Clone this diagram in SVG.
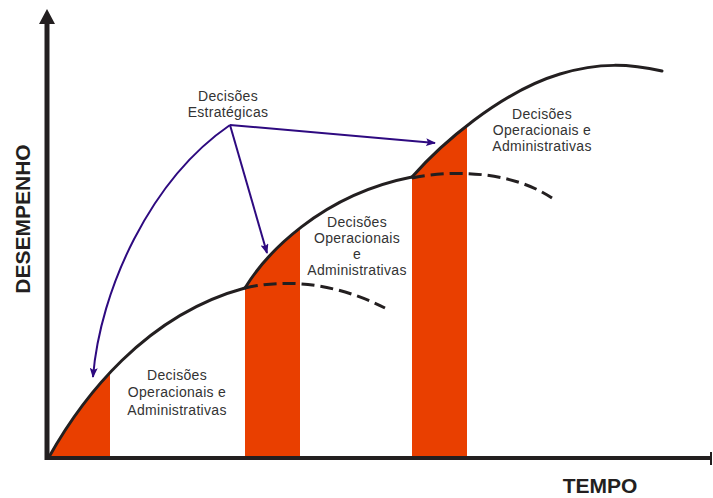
<svg xmlns="http://www.w3.org/2000/svg" width="713" height="498" viewBox="0 0 713 498">
  <style>
    .axis { stroke: #231f20; stroke-width: 5; fill: none; }
    .curve { stroke: #231f20; stroke-width: 3; fill: none; stroke-linecap: round; }
    .dash { stroke: #231f20; stroke-width: 3; fill: none; stroke-dasharray: 13 6; }
    .bar { fill: #e93f00; }
    .link { stroke: #2e0a80; stroke-width: 2; fill: none; }
    .lbl { font-family: "Liberation Sans", Arial, sans-serif; font-size: 14px; fill: #333333; text-anchor: middle; letter-spacing: 0.3px; }
    .ttl { font-family: "Liberation Sans", Arial, sans-serif; font-size: 21px; font-weight: bold; fill: #231f20; text-anchor: middle; }
  </style>
  <defs>
    <marker id="head" viewBox="0 0 10 8" refX="9" refY="4" markerWidth="10" markerHeight="8" markerUnits="userSpaceOnUse" orient="auto">
      <path d="M0,0 L10,4 L0,8 L2,4 Z" fill="#2e0a80"/>
    </marker>
    <!-- area below the performance envelope -->
    <clipPath id="under">
      <path d="M49,457 C82,398 145,315 245,288 C265,255 320,195 412,177 C440,145 500,92 560,74 C600,62 630,64 662,71 L662,457 Z"/>
    </clipPath>
  </defs>

  <!-- shaded transition bands -->
  <g id="bands" clip-path="url(#under)">
    <rect class="bar" x="45" y="300" width="65" height="157"/>
    <rect class="bar" x="245" y="200" width="55" height="257"/>
    <rect class="bar" x="412" y="100" width="55" height="357"/>
  </g>

  <!-- axes -->
  <g id="axes">
    <line class="axis" x1="47" y1="460" x2="47" y2="20"/>
    <path d="M47,9 L55,24 L39,24 Z" fill="#231f20"/>
    <line class="axis" x1="45" y1="458" x2="711" y2="458" style="stroke-width:4"/>
    <line x1="711" y1="452" x2="711" y2="465" stroke="#231f20" stroke-width="2"/>
  </g>

  <!-- performance curves -->
  <g id="curves">
    <path class="curve" d="M49,457 C82,398 145,315 245,288"/>
    <path class="curve" d="M245,288 C265,255 320,195 412,177"/>
    <path class="curve" d="M412,177 C440,145 500,92 560,74 C600,62 630,64 662,71"/>
    <path class="dash" d="M245,288 C280,280 330,280 385,308"/>
    <path class="dash" d="M412,178 C450,170 510,170 552,198"/>
  </g>

  <!-- strategic decision links -->
  <g id="connectors">
    <line class="link" x1="230" y1="125" x2="435" y2="143" marker-end="url(#head)"/>
    <line class="link" x1="230" y1="125" x2="267" y2="253" marker-end="url(#head)"/>
    <path class="link" d="M230,125 C150,180 100,290 93,377" marker-end="url(#head)"/>
  </g>

  <g id="strategic">
    <text class="lbl" x="228" y="101">Decisões</text>
    <text class="lbl" x="228" y="117">Estratégicas</text>
  </g>

  <g id="op1">
    <text class="lbl" x="177" y="380">Decisões</text>
    <text class="lbl" x="177" y="397">Operacionais e</text>
    <text class="lbl" x="177" y="415">Administrativas</text>
  </g>

  <g id="op2">
    <text class="lbl" x="357" y="227">Decisões</text>
    <text class="lbl" x="357" y="243">Operacionais</text>
    <text class="lbl" x="357" y="259">e</text>
    <text class="lbl" x="357" y="275">Administrativas</text>
  </g>

  <g id="op3">
    <text class="lbl" x="542" y="119">Decisões</text>
    <text class="lbl" x="542" y="135">Operacionais e</text>
    <text class="lbl" x="542" y="151">Administrativas</text>
  </g>

  <g id="labels">
    <text class="ttl" transform="translate(30,219) rotate(-90)">DESEMPENHO</text>
    <text class="ttl" x="600" y="493">TEMPO</text>
  </g>
</svg>
